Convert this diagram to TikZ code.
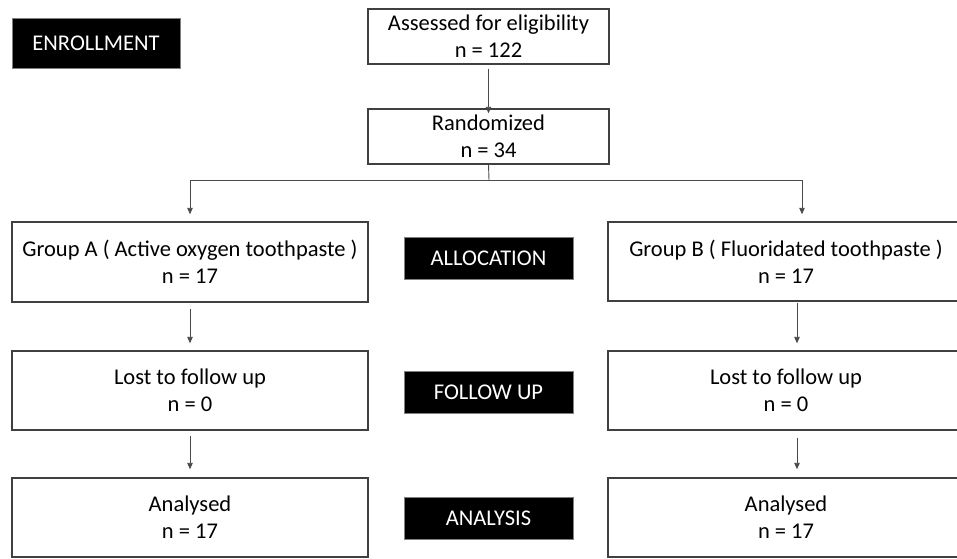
\documentclass[tikz,border=0pt]{standalone}
\usepackage{fontspec}
\setmainfont{Carlito}
\usetikzlibrary{arrows.meta}
\definecolor{boxline}{HTML}{404040}
\definecolor{arrline}{HTML}{4A4A4A}
\tikzset{
  wbox/.style={draw=boxline, line width=1.4pt, fill=white, rectangle, inner sep=0pt,
    align=center, font=\fontsize{22.5}{27}\selectfont},
  bbox/.style={draw=gray, line width=0.8pt, fill=black, text=white, rectangle, inner sep=0pt,
    align=center, font=\fontsize{22.5}{26}\selectfont},
  arr/.style={draw=arrline, line width=0.9pt, -{Triangle[width=5.5pt,length=6.5pt]}},
  ln/.style={draw=arrline, line width=0.9pt},
}
\begin{document}
\begin{tikzpicture}[x=1pt,y=-1pt]
\clip (0,0) rectangle (957,558);
\fill[white] (0,0) rectangle (957,558);
% stage labels
\node[bbox, minimum width=168pt, minimum height=50pt] (enroll) at (96,43) {ENROLLMENT};
\node[bbox, minimum width=169pt, minimum height=42pt] (alloc) at (488.5,258) {ALLOCATION};
\node[bbox, minimum width=169pt, minimum height=42pt] (follow) at (488.5,392) {FOLLOW UP};
\node[bbox, minimum width=169pt, minimum height=42pt] (analysis) at (488.5,518) {ANALYSIS};
% top boxes
\node[wbox, minimum width=241pt, minimum height=55pt] (assess) at (488.5,36.5) {Assessed for eligibility\\n = 122};
\node[wbox, minimum width=241pt, minimum height=55pt] (rand) at (488.5,136.5) {Randomized\\n = 34};
% group A column
\node[wbox, minimum width=356pt, minimum height=80pt] (gA) at (190,262) {Group A ( Active oxygen toothpaste )\\n = 17};
\node[wbox, minimum width=356pt, minimum height=79pt] (lA) at (190,390.5) {Lost to follow up\\n = 0};
\node[wbox, minimum width=356pt, minimum height=79pt] (aA) at (190,517.5) {Analysed\\n = 17};
% group B column
\node[wbox, minimum width=356pt, minimum height=79pt] (gB) at (786,261.5) {Group B ( Fluoridated toothpaste )\\n = 17};
\node[wbox, minimum width=356pt, minimum height=79pt] (lB) at (786,390.5) {Lost to follow up\\n = 0};
\node[wbox, minimum width=356pt, minimum height=79pt] (aB) at (786,517.5) {Analysed\\n = 17};
% connectors
\coordinate (split) at (489,180);
\coordinate (splitL) at (190,180);
\coordinate (splitR) at (802,180);
\draw[arr] (assess.south) ++(0,4) -- ([yshift=-5pt]rand.north);
\draw[ln] (rand.south) -- (split);
\draw[ln] (splitL) -- (splitR);
\draw[arr] (splitL) -- ([yshift=7pt]gA.north -| splitL);
\draw[arr] (splitR) -- ([yshift=7pt]gB.north -| splitR);
\draw[arr] ([yshift=-6pt]gA.south) -- ([yshift=7pt]lA.north);
\draw[arr] ([xshift=11pt,yshift=-1pt]gB.south) -- ([xshift=11pt,yshift=7pt]lB.north);
\draw[arr] ([yshift=-5pt]lA.south) -- ([yshift=8pt]aA.north);
\draw[arr] ([xshift=11pt,yshift=-7pt]lB.south) -- ([xshift=11pt,yshift=8pt]aB.north);
\end{tikzpicture}
\end{document}
